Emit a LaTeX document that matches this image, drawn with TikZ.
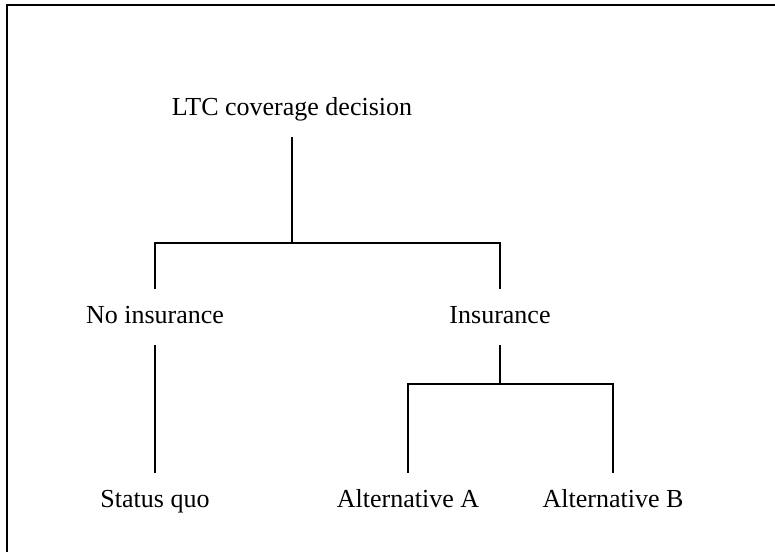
\documentclass[tikz,border=0pt]{standalone}
\usepackage{fontspec}
\setmainfont{Liberation Serif}
\tikzset{
every node/.style={font=\fontsize{13}{15}\selectfont, text height=9pt, text depth=3pt, inner xsep=0pt, inner ysep=7.5pt}, % same box for every label
frame/.style={line width=1pt},
}

\begin{document}
\begin{tikzpicture}[line width=1pt,
    level 1/.style={level distance=104pt, sibling distance=172.5pt,
        edge from parent path={(\tikzparentnode.south) -- ++(0,-53pt) -| (\tikzchildnode.north)}},
    level 2/.style={level distance=92pt, sibling distance=102.5pt,
        edge from parent path={(\tikzparentnode.south) -- ++(0,-19.5pt) -| (\tikzchildnode.north)}}]
    \useasboundingbox (0,0) rectangle (387.5pt,-276pt);
    % open frame, top and left only
    \coordinate (tl) at (3.5pt,-2.5pt);
    \coordinate (tr) at (387.5pt,-2.5pt);
    \coordinate (bl) at (3.5pt,-276pt);
    \draw[frame] (tr) -- (tl) -- (bl);
            \node (decision) at (146pt,-54.5pt) {LTC coverage decision}
            child[xshift=17.75pt] {node (noins) {No insurance}
                child {node (quo) {Status quo}}
            }
            child[xshift=17.75pt] {node (ins) {Insurance}
                child[xshift=5.25pt] {node (altA) {Alternative A}}
                child[xshift=5.25pt] {node (altB) {Alternative B}}
            }
            ;
\end{tikzpicture}
\end{document}
